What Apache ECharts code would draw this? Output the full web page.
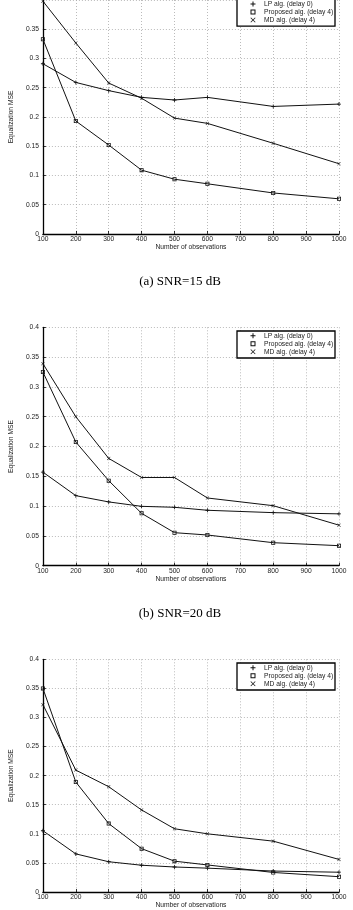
<!DOCTYPE html>
<html>
<head>
<meta charset="utf-8">
<script src="https://cdn.jsdelivr.net/npm/echarts@6/dist/echarts.min.js"></script>
<style>
  body { margin: 0; background: #fff; }
  #chart { width: 353px; height: 910px; }
</style>
</head>
<body>
<div id="chart"></div>
<script>
  // number of observations (x values)
  const observations = [100, 200, 300, 400, 500, 600, 800, 1000];
  const seriesNames = ['LP alg. (delay 0)', 'Proposed alg. (delay 4)', 'MD alg. (delay 4)'];

  // (a) SNR=15 dB
  const lp15 = [0.291, 0.259, 0.245, 0.2335, 0.229, 0.2335, 0.218, 0.222];
  const prop15 = [0.333, 0.193, 0.152, 0.109, 0.0935, 0.0857, 0.070, 0.060];
  const md15 = [0.398, 0.3265, 0.258, 0.232, 0.198, 0.189, 0.155, 0.120];
  // (b) SNR=20 dB
  const lp20 = [0.157, 0.1175, 0.107, 0.0996, 0.098, 0.093, 0.089, 0.087];
  const prop20 = [0.325, 0.2075, 0.1427, 0.0878, 0.0554, 0.0515, 0.0386, 0.0336];
  const md20 = [0.339, 0.250, 0.180, 0.148, 0.148, 0.1136, 0.1007, 0.068];
  // (c) third panel
  const lpC = [0.1053, 0.0655, 0.052, 0.046, 0.043, 0.041, 0.036, 0.034];
  const propC = [0.350, 0.189, 0.1176, 0.0745, 0.053, 0.0465, 0.0336, 0.0263];
  const mdC = [0.322, 0.2095, 0.181, 0.141, 0.1087, 0.100, 0.0874, 0.056];

  const captions = ['(a) SNR=15 dB', '(b) SNR=20 dB'];

  const plusPath = 'path://M4,0h2v4h4v2h-4v4h-2v-4h-4v-2h4z';
  const crossPath = 'path://M0,1L1,0L5,4L9,0L10,1L6,5L10,9L9,10L5,6L1,10L0,9L4,5z';
  const squarePath = 'path://M0,0H10V10H0Z M2,2V8H8V2Z';
  const symbols = [plusPath, squarePath, crossPath];
  const symbolSizes = [4, 4, 3.5];

  const font = '"Liberation Sans", Arial, Helvetica, sans-serif';
  const fs = 6.7;
  const panelTops = [-4.5, 327.3, 659.3];
  const plotH = 238.4;

  const panels = [[lp15, prop15, md15], [lp20, prop20, md20], [lpC, propC, mdC]];

  const option = {
    animation: false,
    backgroundColor: '#fff',
    grid: [], xAxis: [], yAxis: [], series: [], legend: [], graphic: []
  };

  panels.forEach(function (vals, i) {
    const top = panelTops[i];
    option.grid.push({ left: 36, right: 14, top: top, height: plotH });
    option.xAxis.push({
      type: 'value', gridIndex: i, min: 100, max: 1000, interval: 100,
      name: 'Number of observations', nameLocation: 'middle', nameGap: 10,
      nameTextStyle: { fontFamily: font, fontSize: fs, color: '#222' },
      axisLine: { lineStyle: { color: '#000', width: 1.3 } },
      axisTick: { inside: true, length: 3, lineStyle: { color: '#000', width: 0.8 } },
      axisLabel: {
        fontFamily: font, fontSize: fs, color: '#222', margin: 2,
        formatter: function (v) { return String(v); }
      },
      splitLine: { show: true, lineStyle: { color: '#aaa', type: [1, 2], width: 0.8 } }
    });
    option.yAxis.push({
      type: 'value', gridIndex: i, min: 0, max: 0.4, interval: 0.05,
      name: 'Equalization MSE', nameLocation: 'middle', nameRotate: 90, nameGap: 19,
      nameTextStyle: { fontFamily: font, fontSize: fs, color: '#222' },
      axisLine: { show: true, lineStyle: { color: '#000', width: 1.3 } },
      axisTick: { show: true, inside: true, length: 3, lineStyle: { color: '#000', width: 0.8 } },
      axisLabel: {
        fontFamily: font, fontSize: fs, color: '#222', margin: 4,
        showMaxLabel: i > 0
      },
      splitLine: { show: true, lineStyle: { color: '#aaa', type: [1, 2], width: 0.8 } }
    });
    vals.forEach(function (arr, k) {
      option.series.push({
        type: 'line', name: seriesNames[k], xAxisIndex: i, yAxisIndex: i,
        data: observations.map(function (x, j) { return [x, arr[j]]; }),
        symbol: symbols[k], symbolSize: symbolSizes[k],
        itemStyle: { color: '#111', borderWidth: 0 },
        lineStyle: { color: '#111', width: 1 }
      });
    });
    const legTop = top + 3.7;
    option.graphic.push({
      type: 'rect', z: 10,
      shape: { x: 237, y: legTop, width: 98, height: 27 },
      style: { fill: '#fff', stroke: '#000', lineWidth: 1.3 }
    });
    option.legend.push({
      orient: 'vertical', left: 250.5, top: legTop + 0.8, padding: 0, z: 11,
      itemWidth: 5, itemHeight: 5, itemGap: 0, selectedMode: false,
      data: seriesNames.map(function (n, k) { return { name: n, icon: symbols[k] }; }),
      textStyle: { fontFamily: font, fontSize: fs, color: '#222', lineHeight: 8, padding: [0, 0, 0, 3.5] }
    });
    if (captions[i]) {
      option.graphic.push({
        type: 'text', x: 180, y: top + plotH + 48,
        style: {
          text: captions[i], fontFamily: '"Liberation Serif", "Times New Roman", serif',
          fontSize: 13, fill: '#000', align: 'center', verticalAlign: 'middle'
        }
      });
    }
  });

  const myChart = echarts.init(document.getElementById('chart'));
  myChart.setOption(option);
</script>
</body>
</html>
